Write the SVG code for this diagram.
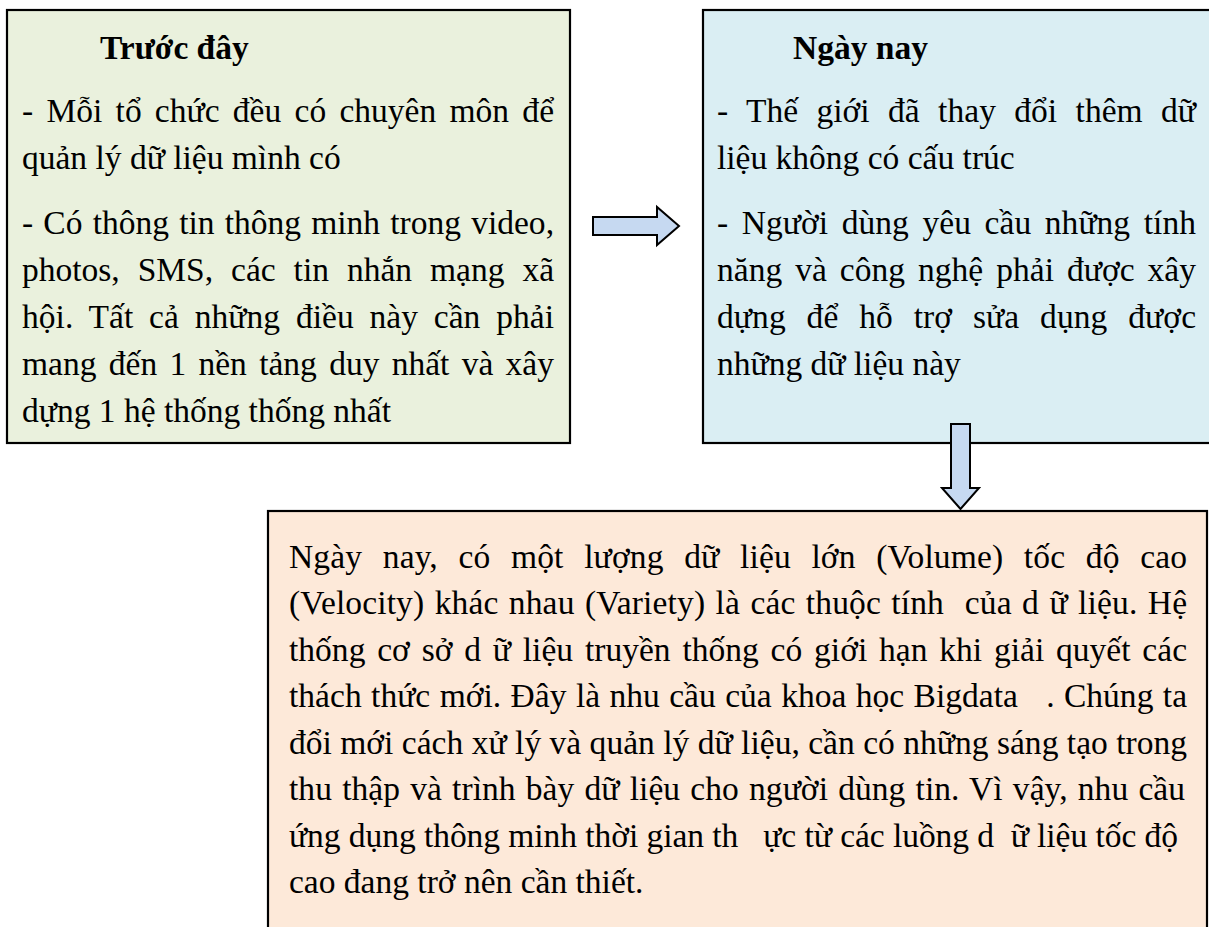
<svg xmlns="http://www.w3.org/2000/svg" width="1209" height="927" viewBox="0 0 1209 927">
<style>
.box{stroke:#000;stroke-width:2.2}
.t{font-family:"Liberation Serif","Times New Roman",serif;font-size:33.5px;fill:#000}
.h{font-family:"Liberation Serif","Times New Roman",serif;font-size:33.5px;font-weight:bold;fill:#000}
.arrow{fill:#C6D9F1;stroke:#000;stroke-width:2;stroke-linejoin:miter}
</style>
<rect x="0" y="0" width="1209" height="927" fill="#fff"/>
<g id="node-truoc-day">
<rect class="box" x="7" y="10" width="563" height="433" fill="#EAF1DD"/>
<text class="h" x="100" y="59">Trước đây</text>
<text class="t" x="22" y="122" word-spacing="4.8" textLength="532" lengthAdjust="spacing">- Mỗi tổ chức đều có chuyên môn để</text>
<text class="t" x="22" y="169">quản lý dữ liệu mình có</text>
<text class="t" x="22" y="234" word-spacing="1.8" textLength="532" lengthAdjust="spacing">- Có thông tin thông minh trong video,</text>
<text class="t" x="22" y="281" word-spacing="9.6" textLength="532" lengthAdjust="spacing">photos, SMS, các tin nhắn mạng xã</text>
<text class="t" x="22" y="328" word-spacing="7.4" textLength="532" lengthAdjust="spacing">hội. Tất cả những điều này cần phải</text>
<text class="t" x="22" y="375" word-spacing="3.9" textLength="532" lengthAdjust="spacing">mang đến 1 nền tảng duy nhất và xây</text>
<text class="t" x="22" y="422">dựng 1 hệ thống thống nhất</text>
</g>
<g id="node-ngay-nay">
<rect class="box" x="703" y="10" width="512" height="433" fill="#DAEEF3"/>
<text class="h" x="793" y="59">Ngày nay</text>
<text class="t" x="717" y="122" word-spacing="9.9" textLength="479" lengthAdjust="spacing">- Thế giới đã thay đổi thêm dữ</text>
<text class="t" x="717" y="169">liệu không có cấu trúc</text>
<text class="t" x="717" y="234" word-spacing="5.2" textLength="479" lengthAdjust="spacing">- Người dùng yêu cầu những tính</text>
<text class="t" x="717" y="281" word-spacing="4.6" textLength="479" lengthAdjust="spacing">năng và công nghệ phải được xây</text>
<text class="t" x="717" y="328" word-spacing="12.4" textLength="479" lengthAdjust="spacing">dựng để hỗ trợ sửa dụng được</text>
<text class="t" x="717" y="375">những dữ liệu này</text>
</g>
<g id="node-tong-ket">
<rect class="box" x="268" y="511" width="939" height="440" fill="#FDE9D9"/>
<text class="t" x="289" y="568" word-spacing="12.1" textLength="898" lengthAdjust="spacing">Ngày nay, có một lượng dữ liệu lớn (Volume) tốc độ cao</text>
<text class="t" x="289" y="614" xml:space="preserve" word-spacing="1.9" textLength="898" lengthAdjust="spacing">(Velocity) khác nhau (Variety) là các thuộc tính  của d ữ liệu. Hệ</text>
<text class="t" x="289" y="661" xml:space="preserve" word-spacing="3.4" textLength="898" lengthAdjust="spacing">thống cơ sở d ữ liệu truyền thống có giới hạn khi giải quyết các</text>
<text class="t" x="289" y="707" xml:space="preserve" word-spacing="1" textLength="898" lengthAdjust="spacing">thách thức mới. Đây là nhu cầu của khoa học Bigdata   . Chúng ta</text>
<text class="t" x="289" y="754" textLength="898" lengthAdjust="spacing">đổi mới cách xử lý và quản lý dữ liệu, cần có những sáng tạo trong</text>
<text class="t" x="289" y="800" word-spacing="1.7" textLength="896" lengthAdjust="spacing">thu thập và trình bày dữ liệu cho người dùng tin. Vì vậy, nhu cầu</text>
<text class="t" x="289" y="847" xml:space="preserve" textLength="889" lengthAdjust="spacing">ứng dụng thông minh thời gian th   ực từ các luồng d  ữ liệu tốc độ</text>
<text class="t" x="289" y="893">cao đang trở nên cần thiết.</text>
</g>
<g id="connectors">
<polygon class="arrow" points="593,217 657,217 657,207 679,226 657,245 657,235 593,235"/>
<polygon class="arrow" points="951,424 970,424 970,488 979,488 960.5,509 942,488 951,488"/>
</g>
</svg>
